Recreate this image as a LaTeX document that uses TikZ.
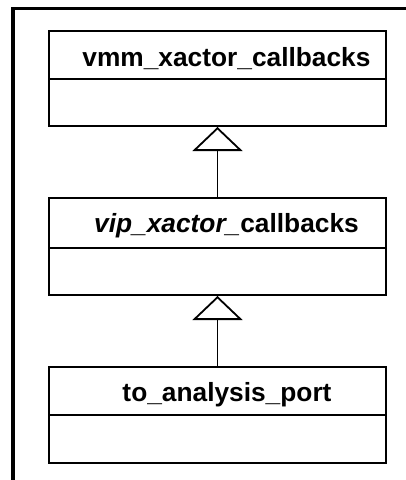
\documentclass[tikz,border=0pt]{standalone}
\usepackage{fontspec}
\setmainfont{Liberation Sans}
\usetikzlibrary{arrows.meta}
\begin{document}
\begin{tikzpicture}[x=1pt,y=-1pt,
  classbox/.style={draw, line width=2pt, minimum width=337pt, inner sep=0pt},
  divider/.style={line width=1.8pt},
  classname/.style={anchor=base, inner sep=0pt, font=\fontsize{26.3}{30}\selectfont\bfseries},
  inherit/.style={draw, line width=1.8pt, -{Triangle[open, length=24pt, width=50pt]}}]
\useasboundingbox (0,0) rectangle (406,480);
% outer frame (top and left edges only)
\draw[line width=3.2pt] (406,8.5) -- (13,8.5) -- (13,480);

% class boxes
\node[classbox, minimum height=95pt] (c1) at (217.5,78.5) {};
\node[classbox, minimum height=97pt] (c2) at (217.5,246.5) {};
\node[classbox, minimum height=96pt] (c3) at (217.5,415) {};

% compartment dividers
\draw[divider] (c1.west |- 0,79) -- (c1.east |- 0,79);
\draw[divider] (c2.west |- 0,248) -- (c2.east |- 0,248);
\draw[divider] (c3.west |- 0,415) -- (c3.east |- 0,415);

% class names
\node[classname] (n1) at (226.5,66.5) {vmm\_xactor\_callbacks};
\node[classname] (n2) at (226.5,232.7) {\textit{vip\_xactor\_}callbacks};
\node[classname] (n3) at (227,401.7) {to\_analysis\_port};

% generalisation arrows
\draw[inherit] (c2.north) -- (c1.south);
\draw[inherit] (c3.north) -- (c2.south);
\end{tikzpicture}
\end{document}
